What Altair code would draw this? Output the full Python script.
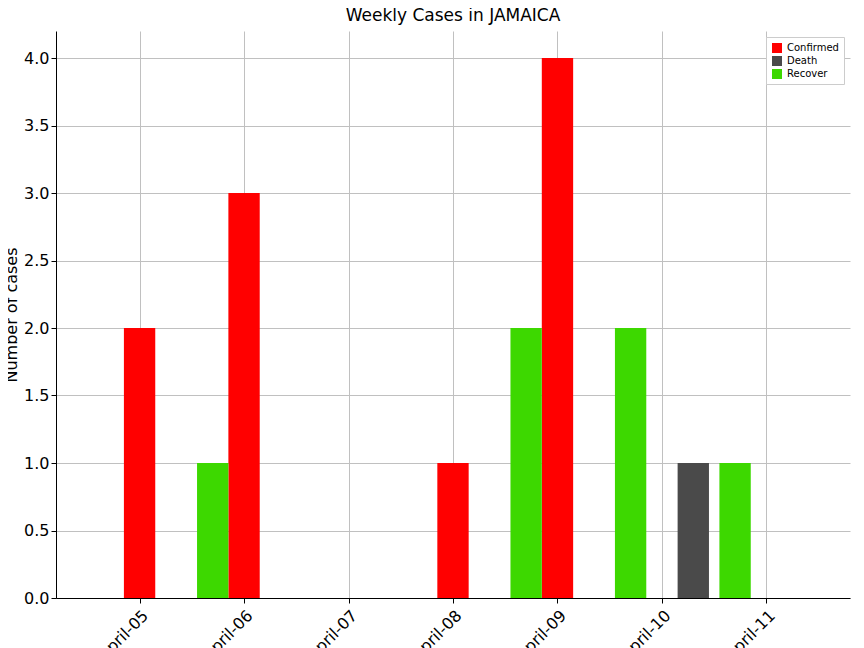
import pandas as pd
import altair as alt

days = ["April-05", "April-06", "April-07", "April-08", "April-09", "April-10", "April-11"]
confirmed = [2, 3, 0, 1, 4, 0, 0]
death = [0, 0, 0, 0, 0, 1, 0]
recover = [0, 1, 0, 0, 2, 2, 1]

series = ["Confirmed", "Death", "Recover"]
colors = ["#ff0000", "#4a4a4a", "#3dd800"]
offsets = {"Confirmed": 0.0, "Death": 0.3, "Recover": -0.3}

rows = []
for name, vals in zip(series, [confirmed, death, recover]):
    for i, v in enumerate(vals):
        if v > 0:
            rows.append({"day": i, "type": name, "cases": v, "off": offsets[name]})
df = pd.DataFrame(rows)

label_expr = "[" + ",".join("'%s'" % d for d in days) + "][datum.value]"

chart = (
    alt.Chart(df)
    .transform_calculate(x0="datum.day + datum.off - 0.15", x1="datum.day + datum.off + 0.15")
    .mark_rect()
    .encode(
        alt.X("x0:Q", scale=alt.Scale(domain=[-0.8, 6.8], nice=False, zero=False),
              axis=alt.Axis(values=list(range(7)), labelExpr=label_expr, labelAngle=-45,
                            labelAlign="right", labelBaseline="top", title=None,
                            labelFontSize=16, labelColor="black", tickColor="black",
                            domainColor="black", gridColor="#c0c0c0", labelPadding=4)),
        alt.X2("x1:Q"),
        alt.Y("cases:Q", scale=alt.Scale(domain=[0, 4.2], nice=False),
              axis=alt.Axis(values=[0, 0.5, 1, 1.5, 2, 2.5, 3, 3.5, 4], format=".1f",
                            title="Number of cases", titleFontSize=16, titleFontWeight="normal",
                            labelFontSize=16, labelColor="black", tickColor="black",
                            domainColor="black", gridColor="#c0c0c0", titleColor="black")),
        alt.Color("type:N", scale=alt.Scale(domain=series, range=colors),
                  legend=alt.Legend(title=None, orient="top-right", symbolType="square",
                                    labelFontSize=10, fillColor="white", strokeColor="#cccccc",
                                    padding=5, offset=6)),
    )
    .properties(
        width=794, height=567,
        title=alt.TitleParams("Weekly Cases in JAMAICA", fontSize=17, fontWeight="normal", offset=6),
        autosize="none",
        padding={"left": 48, "top": 23, "right": 6, "bottom": 60},
    )
    .configure(font="DejaVu Sans")
    .configure_view(stroke=None)
)

chart.save("out.html", embed_options={"renderer": "svg", "actions": False})
